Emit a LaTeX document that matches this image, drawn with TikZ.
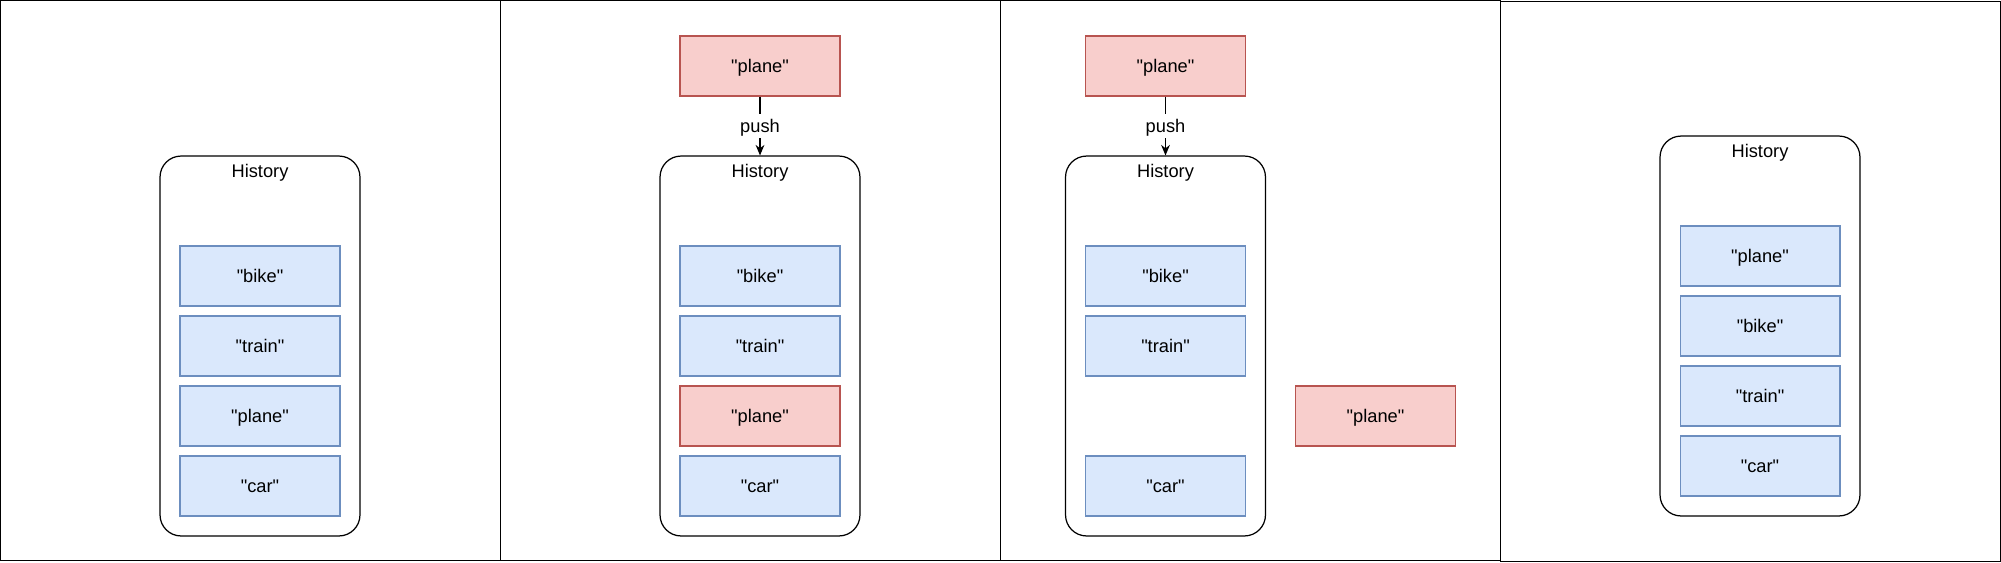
\documentclass[tikz,border=0pt]{standalone}
\usepackage{fontspec}
\setmainfont{Liberation Sans}[Ligatures=TeXOff]
\usetikzlibrary{arrows.meta}
\definecolor{bluefill}{HTML}{DAE8FC}
\definecolor{bluedraw}{HTML}{6C8EBF}
\definecolor{redfill}{HTML}{F8CECC}
\definecolor{reddraw}{HTML}{B85450}
\begin{document}
\begin{tikzpicture}[x=0.02cm,y=-0.02cm]

	\useasboundingbox (0,0) rectangle (2001,562);

	\tikzstyle{panel}=[draw,rectangle,line width=0.7pt,inner sep=0pt,anchor=north west,minimum width=10cm,minimum height=11.2cm]
	\tikzstyle{history}=[draw,rectangle,rounded corners=12pt,line width=0.7pt,inner sep=0pt,minimum width=4cm,minimum height=7.6cm]
	\tikzstyle{title}=[font=\fontsize{10.4}{12}\selectfont,text height=9.4pt,text depth=2.2pt]
	\tikzstyle{entry}=[title,draw=bluedraw,fill=bluefill,rectangle,line width=0.6pt,text centered,inner sep=0pt,minimum width=3.2cm,minimum height=1.2cm]
	\tikzstyle{newentry}=[entry,draw=reddraw,fill=redfill]

	\node[panel] (p1) at (0,0) {};
	\node[panel] (p2) at (500,0) {};
	\node[panel] (p3) at (1000,0) {};
	\node[panel] (p4) at (1500,1) {};

	% before
	\node[history] (h1) at (260,346) {};
	\node[title] at ([yshift=-0.32cm]h1.north) {History};
	\node[entry] (b1) at (260,276) {"bike"};
	\node[entry] (t1) at (260,346) {"train"};
	\node[entry] (l1) at (260,416) {"plane"};
	\node[entry] (c1) at (260,486) {"car"};

	% push
	\node[newentry] (n2) at (760,66) {"plane"};
	\node[history] (h2) at (760,346) {};
	\node[title] at ([yshift=-0.32cm]h2.north) {History};
	\node[entry] (b2) at (760,276) {"bike"};
	\node[entry] (t2) at (760,346) {"train"};
	\node[newentry] (l2) at (760,416) {"plane"};
	\node[entry] (c2) at (760,486) {"car"};
	\draw[-{Stealth[length=6pt,width=5pt]},line width=0.6pt] (n2) -- (h2) node[midway,fill=white,inner sep=1pt,title] {push};

	% remove old
	\node[newentry] (n3) at (1165.5,66) {"plane"};
	\node[history] (h3) at (1165.5,346) {};
	\node[title] at ([yshift=-0.32cm]h3.north) {History};
	\node[entry] (b3) at (1165.5,276) {"bike"};
	\node[entry] (t3) at (1165.5,346) {"train"};
	\node[entry] (c3) at (1165.5,486) {"car"};
	\node[newentry] (l3) at (1375.5,416) {"plane"};
	\draw[-{Stealth[length=6pt,width=5pt]},line width=0.6pt] (n3) -- (h3) node[midway,fill=white,inner sep=1pt,title] {push};

	% after
	\node[history] (h4) at (1760,326) {};
	\node[title] at ([yshift=-0.32cm]h4.north) {History};
	\node[entry] (l4) at (1760,256) {"plane"};
	\node[entry] (b4) at (1760,326) {"bike"};
	\node[entry] (t4) at (1760,396) {"train"};
	\node[entry] (c4) at (1760,466) {"car"};

\end{tikzpicture}
\end{document}
